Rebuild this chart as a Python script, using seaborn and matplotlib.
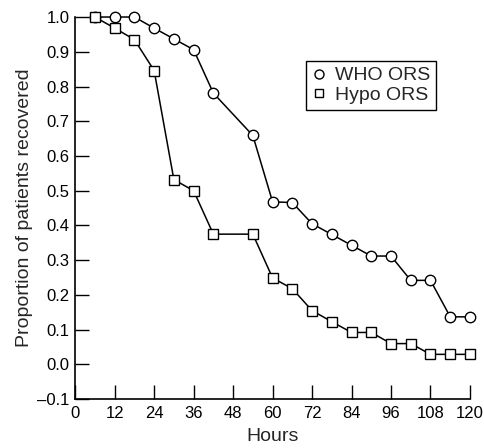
import pandas as pd
import numpy as np
import matplotlib
matplotlib.use("Agg")
import matplotlib.pyplot as plt
import seaborn as sns
from matplotlib.lines import Line2D

# Values
hours = [6, 12, 18, 24, 30, 36, 42, 54, 60, 66, 72, 78, 84, 90, 96, 102, 108, 114, 120]
who_ors = [1.0, 1.0, 1.0, 0.968, 0.937, 0.906, 0.781, 0.659, 0.468, 0.466, 0.405, 0.374,
           0.343, 0.312, 0.312, 0.242, 0.242, 0.137, 0.137]
hypo_ors = [1.0, 0.968, 0.935, 0.846, 0.532, 0.5, 0.375, 0.375, 0.249, 0.218, 0.155, 0.123,
            0.092, 0.092, 0.06, 0.06, 0.029, 0.029, 0.029]
x_ticks = list(range(0, 121, 12))
y_ticks = [-0.1, 0.0, 0.1, 0.2, 0.3, 0.4, 0.5, 0.6, 0.7, 0.8, 0.9, 1.0]

data = pd.DataFrame({
    "Hours": hours * 2,
    "Proportion": who_ors + hypo_ors,
    "Group": ["WHO ORS"] * len(hours) + ["Hypo ORS"] * len(hours),
})

sns.set_style("white")
plt.rcParams['font.family'] = ['Liberation Sans', 'DejaVu Sans']

fig = plt.figure(figsize=(4.85, 4.48), dpi=100)
ax = fig.add_axes([0.155, 0.109, 0.814, 0.853])

sns.lineplot(data=data, x="Hours", y="Proportion", hue="Group", style="Group",
             markers={"WHO ORS": "o", "Hypo ORS": "s"}, dashes=False,
             palette={"WHO ORS": "black", "Hypo ORS": "black"},
             markersize=7.5, markerfacecolor="white", markeredgecolor="black",
             markeredgewidth=1.0, linewidth=1.1, legend=False, ax=ax, clip_on=False)
for ln in ax.lines:
    ln.set_clip_on(False)

ax.set_xlim(0, 120)
ax.set_ylim(-0.1, 1.0)
ax.set_xticks(x_ticks)
ax.set_yticks(y_ticks)
ax.set_yticklabels([f"{v:.1f}".replace("-", "\u2013") for v in y_ticks])
ax.tick_params(direction="in", length=10, width=1, colors="black", labelsize=12,
               bottom=True, left=True, pad=4)
ax.tick_params(axis="x", pad=5)
sns.despine(ax=ax)
for s in ["left", "bottom"]:
    ax.spines[s].set_color("black")
    ax.spines[s].set_linewidth(1.2)

ax.set_xlabel("Hours", fontsize=14, labelpad=5)
ax.set_ylabel("Proportion of patients recovered", fontsize=14, labelpad=3)

handles = [
    Line2D([], [], linestyle="none", marker="o", markersize=6.5, markerfacecolor="white",
           markeredgecolor="black", label="WHO ORS"),
    Line2D([], [], linestyle="none", marker="s", markersize=6, markerfacecolor="white",
           markeredgecolor="black", label="Hypo ORS"),
]
leg = ax.legend(handles=handles, loc="upper left", bbox_to_anchor=(0.585, 0.885),
                borderaxespad=0, fancybox=False, framealpha=1, edgecolor="black",
                fontsize=14, handlelength=0.7, handletextpad=0.5, labelspacing=0.1,
                borderpad=0.3)
leg.get_frame().set_linewidth(1.0)

fig.savefig("out.png", dpi=100)
